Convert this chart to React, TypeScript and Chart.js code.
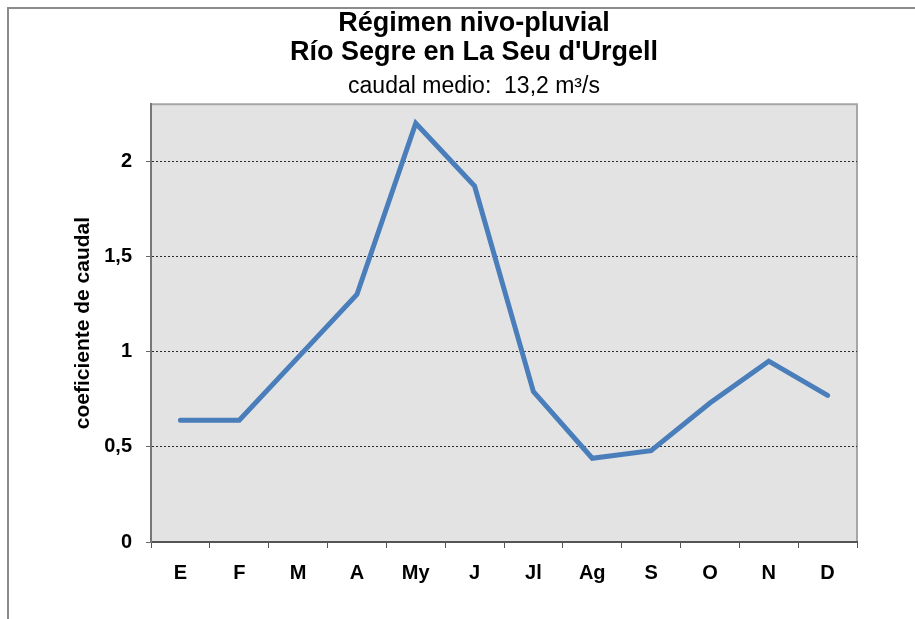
import React, { useEffect, useRef } from "react";
import { Chart, registerables } from "chart.js";

Chart.register(...registerables);

const months = ["E", "F", "M", "A", "My", "J", "Jl", "Ag", "S", "O", "N", "D"];
const coeficiente = [0.64, 0.64, 0.97, 1.3, 2.2, 1.87, 0.79, 0.44, 0.48, 0.73, 0.95, 0.77];
const yTicks = [0, 0.5, 1, 1.5, 2];
const titleLines = ["Régimen nivo-pluvial", "Río Segre en La Seu d'Urgell"];
const subtitleText = "caudal medio:  13,2 m³/s";
const yTitle = "coeficiente de caudal";

const FONT = "'Liberation Sans', Arial, sans-serif";

const frameAndPlot = {
  id: "frameAndPlot",
  beforeDraw(chart: any) {
    const { ctx, chartArea } = chart;
    ctx.save();
    ctx.fillStyle = "#ffffff";
    ctx.fillRect(0, 0, chart.width, chart.height);
    ctx.strokeStyle = "#8c8c8c";
    ctx.lineWidth = 2;
    ctx.beginPath();
    ctx.moveTo(8, chart.height + 2);
    ctx.lineTo(8, 8);
    ctx.lineTo(chart.width + 2, 8);
    ctx.stroke();
    ctx.fillStyle = "#e3e3e3";
    ctx.fillRect(chartArea.left, chartArea.top, chartArea.right - chartArea.left, chartArea.bottom - chartArea.top);
    ctx.strokeStyle = "#a6a6a6";
    ctx.lineWidth = 2;
    ctx.beginPath();
    ctx.moveTo(chartArea.left, chartArea.top);
    ctx.lineTo(chartArea.right, chartArea.top);
    ctx.lineTo(chartArea.right, chartArea.bottom);
    ctx.stroke();
    ctx.restore();
  },
};

export default function App() {
  const ref = useRef<HTMLCanvasElement | null>(null);
  useEffect(() => {
    if (!ref.current) return;
    const chart = new Chart(ref.current, {
      type: "line",
      data: {
        labels: months,
        datasets: [
          {
            data: coeficiente,
            borderColor: "#4a7ebb",
            borderWidth: 5,
            pointRadius: 0,
            tension: 0,
            borderCapStyle: "round",
            borderJoinStyle: "miter",
            yAxisID: "y",
          },
        ],
      },
      options: {
        animation: false,
        responsive: false,
        maintainAspectRatio: false,
        layout: { padding: { top: 0, left: 33, right: 0, bottom: 0 } },
        plugins: {
          legend: { display: false },
          tooltip: { enabled: false },
          title: {
            display: true,
            text: titleLines,
            color: "#000",
            font: { family: FONT, size: 27, weight: "bold", lineHeight: 1.04 },
            padding: { top: 10, bottom: 9 },
          },
          subtitle: {
            display: true,
            text: subtitleText,
            color: "#000",
            font: { family: FONT, size: 23, weight: "normal", lineHeight: 1 },
            padding: { top: 0, bottom: 6 },
          },
        },
        scales: {
          x: {
            offset: true,
            grid: {
              offset: true,
              drawOnChartArea: false,
              drawTicks: true,
              tickLength: 6,
              tickColor: "#555",
              color: "#555",
            },
            border: { display: true, color: "#555", width: 2 },
            ticks: {
              color: "#000",
              padding: 13,
              font: { family: FONT, size: 20, weight: "bold" },
            },
            afterFit: (s: any) => {
              s.height = 77;
            },
          },
          y: {
            min: 0,
            max: 2.3,
            afterBuildTicks: (s: any) => {
              s.ticks = yTicks.map((v) => ({ value: v }));
            },
            grid: {
              color: (c: any) => (c.tick && c.tick.value === 0 ? "rgba(0,0,0,0)" : "#2a2a2a"),
              lineWidth: 1,
              tickColor: "#666",
              tickLength: 5,
              tickBorderDash: [],
            } as any,
            border: { display: true, color: "#777", width: 2, dash: [2, 2] } as any,
            ticks: {
              color: "#000",
              padding: 14,
              font: { family: FONT, size: 20, weight: "bold" },
              callback: (v: any) => String(v).replace(".", ","),
            },
            title: {
              display: true,
              text: yTitle,
              color: "#000",
              font: { family: FONT, size: 21, weight: "bold", lineHeight: 1.2 },
              padding: { top: 38, bottom: 0 },
            },
            afterFit: (s: any) => {
              s.width = 118;
            },
          },
          yRight: {
            type: "linear",
            position: "right",
            display: true,
            grid: { display: false, drawTicks: false },
            border: { display: false },
            ticks: { display: false },
            afterFit: (s: any) => {
              s.width = 58;
            },
          },
        },
      },
      plugins: [frameAndPlot],
    });
    return () => chart.destroy();
  }, []);
  return (
    <div style={{ position: "fixed", left: 0, top: 0, width: 915, height: 619 }}>
      <canvas ref={ref} width={915} height={619} style={{ display: "block" }} />
    </div>
  );
}
